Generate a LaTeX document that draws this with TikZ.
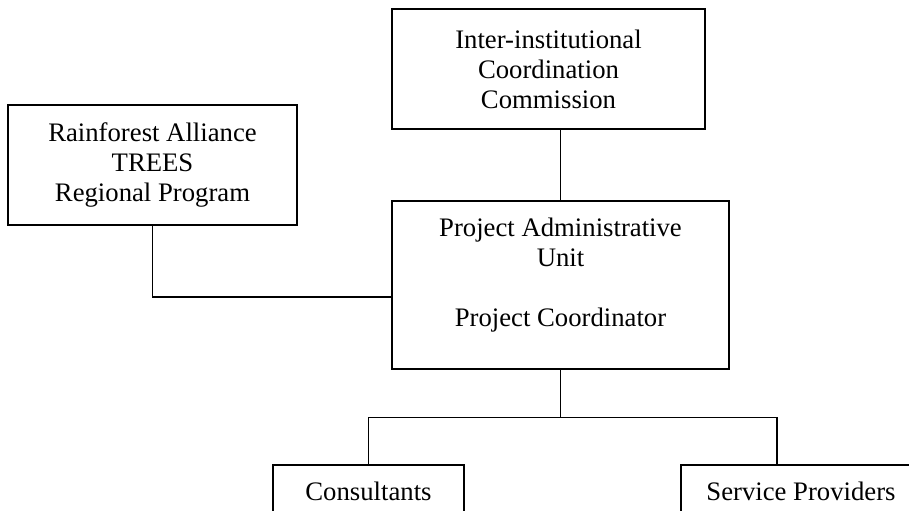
\documentclass[tikz,border=0pt]{standalone}
\usepackage{fontspec}
\setmainfont{Liberation Serif}

\begin{document}
\begin{tikzpicture}[line width=0.8pt,
		box/.style={draw, align=center, inner sep=0pt, font=\fontsize{19}{21.3}\selectfont}]
			\useasboundingbox (0,0) rectangle (22.725,12.75);

			\node[box, minimum width=7.825cm, minimum height=3cm] (commission) at (13.7125,11.025) {Inter-institutional\\Coordination\\Commission};
			\node[box, minimum width=7.225cm, minimum height=3cm] (alliance) at (3.8125,8.625) {Rainforest Alliance\\TREES\\Regional Program};
			\node[box, minimum width=8.425cm, minimum height=4.2cm] (unit) at (14.0125,5.625) {Project Administrative\\Unit\\[21.3pt]Project Coordinator\rule[-0.65cm]{0pt}{1pt}};
			\node[box, minimum width=4.775cm, minimum height=1.325cm] (consultants) at (9.2125,0.4625) {Consultants};
			\node[box, minimum width=6cm, minimum height=1.325cm] (providers) at (20.025,0.4625) {Service Providers};

			\draw (commission.south -| unit.north) -- (unit.north);
			\draw (alliance.south) |- ([yshift=-0.3cm]unit.west);
			\draw (unit.south) -- ++(0,-1.2) coordinate (split);
			\draw (split) -| (consultants.north);
			\draw (split) -| ([xshift=-0.6cm]providers.north);
		\end{tikzpicture}
\end{document}
